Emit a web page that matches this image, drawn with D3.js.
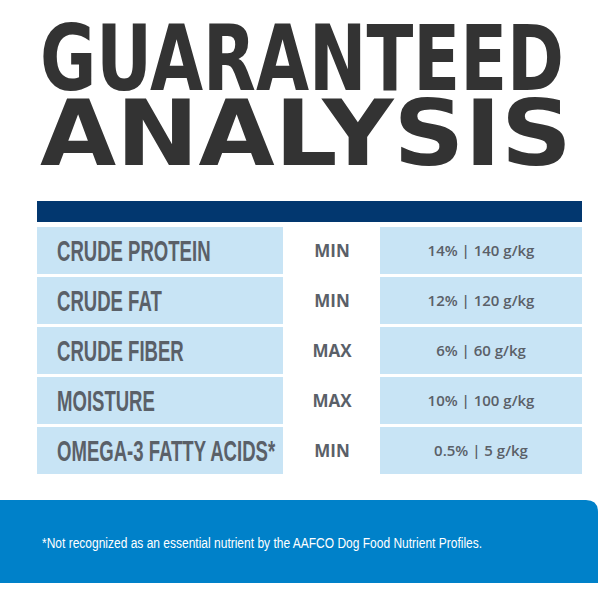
<!DOCTYPE html>
<html><head><meta charset="utf-8">
<script src="https://cdn.jsdelivr.net/npm/d3@7"></script>
<style>body{margin:0;background:#fff}</style></head>
<body><svg id="c" width="600" height="600"></svg>
<script>
const nutrients = ["CRUDE PROTEIN","CRUDE FAT","CRUDE FIBER","MOISTURE","OMEGA-3 FATTY ACIDS*"];
const limits = ["MIN","MIN","MAX","MAX","MIN"];
const amounts = ["14% | 140 g/kg","12% | 120 g/kg","6% | 60 g/kg","10% | 100 g/kg","0.5% | 5 g/kg"];
const titleLines = ["GUARANTEED","ANALYSIS"];
const footnote = "*Not recognized as an essential nutrient by the AAFCO Dog Food Nutrient Profiles.";

const svg = d3.select("#c");
const y = d3.scaleBand().domain(nutrients).range([227, 474]).paddingInner(0.06);

svg.selectAll("text.t").data(titleLines).join("text").attr("class","t")
  .attr("x", 40).attr("y", (d,i)=> i ? 165 : 90)
  .attr("textLength", (d,i)=> i ? 532 : 524).attr("lengthAdjust","spacingAndGlyphs")
  .attr("font-family","DejaVu Sans").attr("font-weight","bold").attr("font-size",90)
  .attr("fill","#333333").text(d=>d);

svg.append("rect").attr("x",37).attr("y",201).attr("width",545).attr("height",21).attr("fill","#02376F");

const g = svg.selectAll("g.row").data(nutrients).join("g").attr("class","row").attr("transform", d=>`translate(0,${y(d)})`);
g.append("rect").attr("x",37).attr("width",246).attr("height",y.bandwidth()).attr("fill","#C8E4F5");
g.append("rect").attr("x",380).attr("width",202).attr("height",y.bandwidth()).attr("fill","#C8E4F5");
g.append("text").attr("transform",`translate(57,${y.bandwidth()/2+10}) scale(0.64,1)`)
  .attr("font-family","Liberation Sans").attr("font-weight","bold").attr("font-size",29)
  .attr("fill","#5A6068").text(d=>d);
g.append("text").attr("x",332).attr("y",y.bandwidth()/2+6).attr("text-anchor","middle")
  .attr("font-family","Open Sans").attr("font-weight","bold").attr("font-size",17).attr("fill","#5A6068")
  .text((d,i)=>limits[i]);
g.append("text").attr("x",481).attr("y",y.bandwidth()/2+5).attr("text-anchor","middle")
  .attr("font-family","Open Sans").attr("font-weight","600").attr("font-size",15).attr("fill","#5A6068")
  .text((d,i)=>amounts[i]);

svg.append("path").attr("d","M0,500 H586 Q598,500 598,512 V583 H0 Z").attr("fill","#0081C9");
svg.append("text").attr("transform","translate(42,548) scale(0.8,1)")
  .attr("font-family","Liberation Sans")
  .attr("font-size",15).attr("fill","#fff").text(footnote);
</script></body></html>
